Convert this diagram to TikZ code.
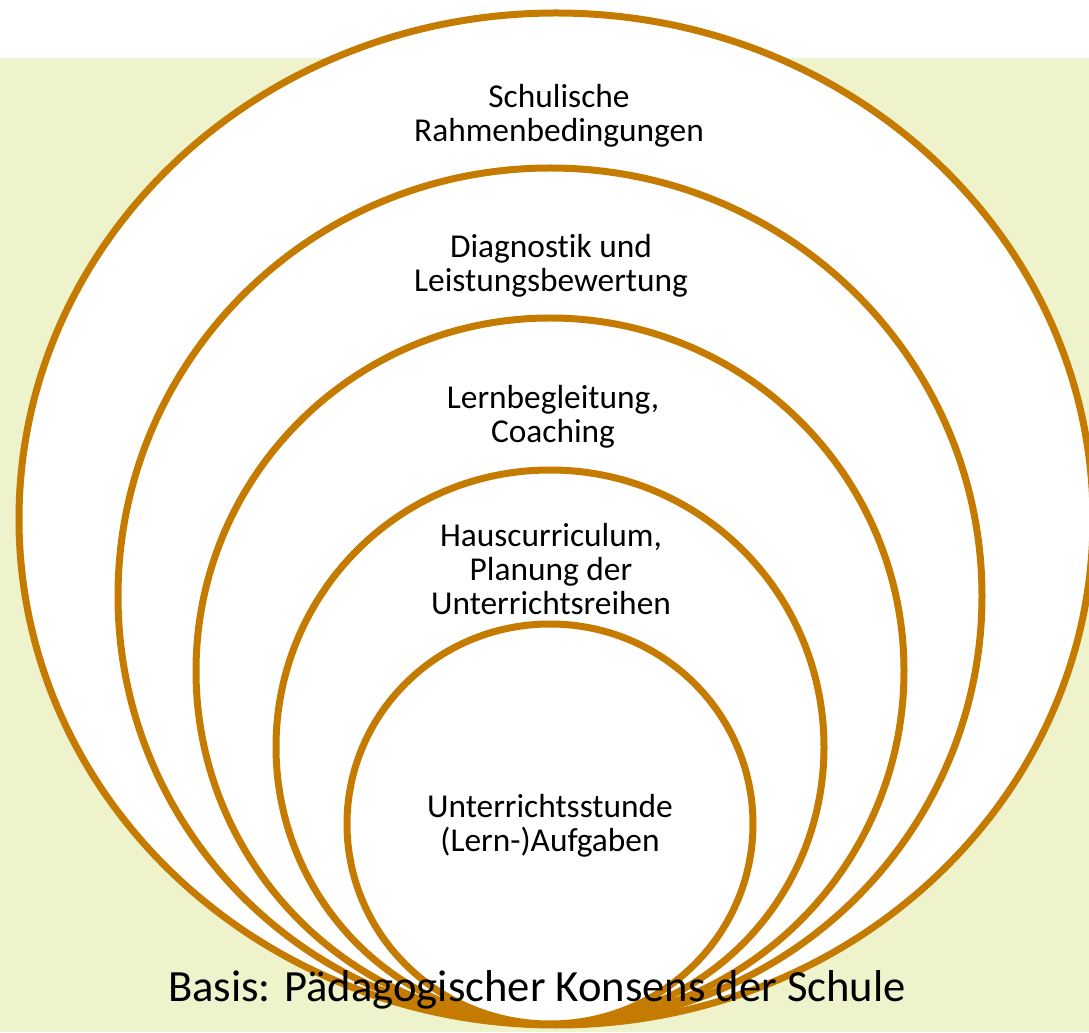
\documentclass[tikz,border=0pt]{standalone}
\usepackage{fontspec}
\setmainfont[Ligatures=NoCommon]{Carlito}
\usepackage{xcolor}
\usetikzlibrary{shadows}
\definecolor{ringbrown}{RGB}{197,122,0}
\definecolor{basegreen}{RGB}{238,243,204}
\tikzstyle{ring} = [draw=ringbrown, line width=0.14cm, fill=white, drop shadow={opacity=0.25, shadow xshift=0.03cm, shadow yshift=-0.04cm}]
\tikzstyle{ringtext} = [align=center, font=\fontsize{19}{19.4}\selectfont]

\begin{document}
\begin{tikzpicture}[x=0.02cm,y=0.02cm]
  \useasboundingbox (0,0) rectangle (1089,1032);
  \fill[basegreen] (0,0) rectangle (1089,974);

  \draw[ring] (556,513) ellipse (537 and 506);
  \draw[ring] (550,436) ellipse (432 and 428);
  \draw[ring] (550,361) ellipse (354 and 353);
  \draw[ring] (550,285) ellipse (274 and 277);
  \draw[ring] (550,208) ellipse (203 and 200);

  \node[ringtext] (rahmen) at (559,916) {Schulische\\Rahmenbedingungen};
  \node[ringtext] (diagnostik) at (551,766) {Diagnostik und\\Leistungsbewertung};
  \node[ringtext] (coaching) at (553,615) {Lernbegleitung,\\Coaching};
  \node[ringtext] (curriculum) at (551,463) {Hauscurriculum,\\Planung der\\Unterrichtsreihen};
  \node[ringtext] (stunde) at (550,206) {Unterrichtsstunde\\(Lern-)Aufgaben};
  \node[font=\fontsize{25.4}{30}\selectfont, anchor=base] (basis) at (537,31) {Basis: Pädagogischer Konsens der Schule};
\end{tikzpicture}
\end{document}
